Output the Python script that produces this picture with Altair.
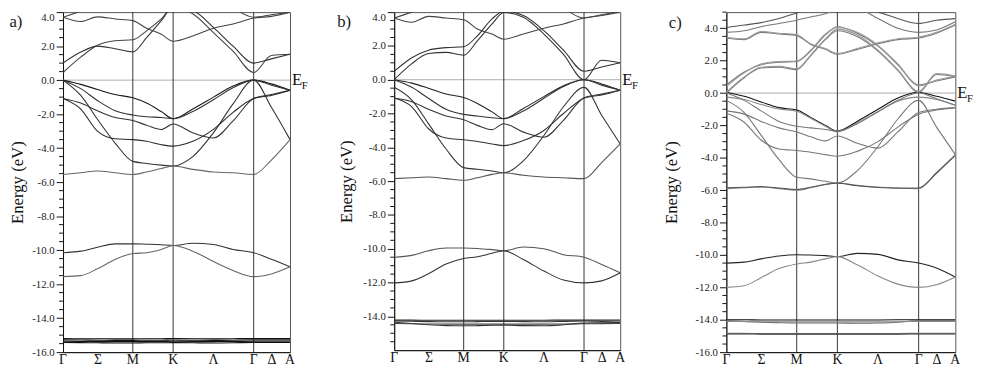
import altair as alt
import pandas as pd

# k-path positions (arbitrary distance units along Γ-M-K-Γ-A)
K_GRID = [0, 18, 35, 53, 71, 85, 100, 112, 132, 153, 173, 194, 212, 231]
SYM_POS = [0, 35.5, 71, 112, 153, 194, 212.5, 231]
SYM_LABELS = ["Γ", "Σ", "M", "K", "Λ", "Γ", "Δ", "A"]
VLINES = [71, 112, 194]
K_MAX = 231

# ---------------- panel a ----------------
A_V1 = [0.0, -0.25, -0.55, -0.85, -1.04, -1.35, -1.85, -2.27, -1.7, -1.0, -0.35, 0.0, -0.22, -0.6]
A_V2 = [0.0, -0.5, -1.2, -1.8, -2.05, -2.15, -2.2, -2.27, -1.85, -1.15, -0.45, 0.0, -0.3, -0.6]
A_V3 = [-1.08, -1.35, -1.8, -2.2, -2.37, -2.65, -2.9, -2.58, -3.1, -3.4, -2.4, -1.08, -0.85, -0.6]
A_V4 = [-1.08, -1.7, -3.0, -3.45, -3.5, -3.6, -3.8, -3.88, -3.6, -2.9, -1.9, -1.08, -0.9, -0.6]
A_V5 = [0.0, -0.9, -2.3, -3.7, -4.78, -4.9, -5.0, -5.05, -4.5, -3.1, -1.4, 0.0, -1.6, -3.5]
A_V6 = [-5.55, -5.45, -5.35, -5.45, -5.55, -5.4, -5.2, -5.05, -5.25, -5.4, -5.45, -5.55, -4.7, -3.5]
A_C1 = [0.45, 1.35, 2.05, 2.32, 2.38, 2.9, 3.6, 4.3, 3.9, 2.8, 1.7, 0.45, 1.45, 1.52]
A_C2 = [1.0, 1.65, 2.0, 1.85, 1.66, 2.5, 3.5, 4.3, 4.1, 3.1, 2.0, 1.0, 1.25, 1.52]
A_U1 = [3.7, 3.45, 3.72, 3.6, 3.5, 3.05, 2.7, 2.29, 2.6, 3.05, 3.3, 3.65, 3.75, 4.0]
A_U2 = [3.7, 4.05, 4.4, 4.6, 4.7, 4.8, 4.9, 5.0, 4.9, 4.6, 4.2, 3.7, 3.85, 4.0]
A_S1 = [-10.15, -10.06, -9.83, -9.63, -9.63, -9.65, -9.68, -9.73, -9.6, -9.67, -9.96, -10.15, -10.54, -10.98]
A_S2 = [-11.56, -11.5, -11.1, -10.55, -10.2, -10.15, -9.96, -9.73, -10.06, -10.67, -11.2, -11.56, -11.4, -10.98]
A_D1 = [-15.2, -15.21, -15.21, -15.22, -15.22, -15.21, -15.21, -15.2, -15.21, -15.22, -15.21, -15.2, -15.2, -15.2]
A_D2 = [-15.28, -15.29, -15.3, -15.31, -15.31, -15.3, -15.3, -15.29, -15.3, -15.31, -15.3, -15.28, -15.28, -15.28]
A_D3 = [-15.36, -15.37, -15.38, -15.38, -15.38, -15.37, -15.37, -15.36, -15.37, -15.38, -15.37, -15.36, -15.36, -15.36]
A_D4 = [-15.43, -15.44, -15.45, -15.46, -15.46, -15.45, -15.45, -15.44, -15.45, -15.46, -15.45, -15.43, -15.43, -15.43]
A_BANDS = [A_V1, A_V2, A_V3, A_V4, A_V5, A_V6, A_C1, A_C2, A_U1, A_U2, A_S1, A_S2, A_D1, A_D2, A_D3, A_D4]
A_SHADES = ["#1a1a1a", "#333333", "#333333", "#2a2a2a", "#333333", "#666666", "#444444", "#333333",
            "#444444", "#444444", "#333333", "#666666", "#111111", "#111111", "#111111", "#111111"]

# ---------------- panel b ----------------
B_V1 = [0.0, -0.2, -0.5, -0.85, -1.05, -1.4, -1.9, -2.3, -1.7, -1.0, -0.35, 0.0, -0.25, -0.62]
B_V2 = [0.0, -0.45, -1.1, -1.75, -2.05, -2.15, -2.25, -2.3, -1.85, -1.1, -0.4, 0.0, -0.32, -0.62]
B_V3 = [-1.08, -1.3, -1.75, -2.15, -2.37, -2.7, -2.95, -2.6, -3.1, -3.4, -2.4, -1.08, -0.9, -0.62]
B_V4 = [-1.08, -1.6, -2.9, -3.45, -3.55, -3.65, -3.8, -3.9, -3.6, -3.0, -2.0, -1.08, -0.85, -0.62]
B_V5 = [-0.45, -1.2, -2.6, -4.1, -5.2, -5.3, -5.4, -5.5, -4.8, -3.3, -1.6, -0.45, -2.1, -3.8]
B_V6 = [-5.85, -5.8, -5.75, -5.85, -5.95, -5.8, -5.6, -5.5, -5.65, -5.75, -5.8, -5.85, -4.9, -3.8]
B_C1 = [0.0, 0.95, 1.55, 1.62, 1.45, 2.3, 3.3, 3.98, 3.7, 2.7, 1.5, 0.0, 1.15, 1.0]
B_C2 = [0.5, 1.3, 1.75, 1.9, 1.95, 2.6, 3.6, 4.05, 3.8, 2.9, 1.75, 0.5, 0.75, 1.0]
B_U1 = [3.65, 3.4, 3.75, 3.65, 3.55, 3.0, 2.7, 2.4, 2.7, 3.05, 3.3, 3.65, 3.8, 4.0]
B_U2 = [3.65, 4.0, 4.3, 4.6, 4.8, 4.9, 5.0, 5.0, 5.0, 4.7, 4.2, 3.65, 3.85, 4.05]
B_S1 = [-10.5, -10.39, -10.12, -9.96, -9.96, -9.98, -10.05, -10.12, -9.9, -10.0, -10.35, -10.5, -10.93, -11.42]
B_S2 = [-12.02, -11.9, -11.48, -10.9, -10.58, -10.47, -10.27, -10.12, -10.64, -11.32, -11.85, -12.02, -11.9, -11.42]
B_D1 = [-14.22, -14.22, -14.23, -14.23, -14.23, -14.23, -14.23, -14.23, -14.23, -14.23, -14.22, -14.22, -14.22, -14.22]
B_D2 = [-14.27, -14.29, -14.31, -14.32, -14.32, -14.31, -14.3, -14.3, -14.31, -14.32, -14.3, -14.27, -14.3, -14.34]
B_D3 = [-14.35, -14.42, -14.5, -14.55, -14.56, -14.55, -14.53, -14.52, -14.55, -14.56, -14.5, -14.4, -14.38, -14.36]
B_D4 = [-14.42, -14.44, -14.45, -14.46, -14.46, -14.46, -14.46, -14.46, -14.46, -14.46, -14.45, -14.44, -14.43, -14.42]
B_BANDS = [B_V1, B_V2, B_V3, B_V4, B_V5, B_V6, B_C1, B_C2, B_U1, B_U2, B_S1, B_S2, B_D1, B_D2, B_D3, B_D4]
B_SHADES = ["#222222", "#333333", "#333333", "#333333", "#333333", "#555555", "#333333", "#333333",
            "#444444", "#444444", "#555555", "#333333", "#222222", "#333333", "#333333", "#444444"]

# ---------------- panel c ----------------
C_V1 = [0.05, -0.2, -0.55, -0.9, -1.05, -1.5, -2.0, -2.35, -1.75, -1.0, -0.3, 0.05, -0.2, -0.5]
C_V1B = [-0.25, -0.4, -0.7, -0.98, -1.12, -1.55, -2.05, -2.4, -1.85, -1.15, -0.5, -0.25, -0.4, -0.75]
C_V2 = [0.0, -0.45, -1.1, -1.75, -2.05, -2.15, -2.25, -2.35, -1.9, -1.15, -0.45, 0.0, -0.35, -0.75]
C_V3 = [-1.1, -1.3, -1.75, -2.15, -2.4, -2.7, -2.95, -2.65, -3.1, -3.4, -2.4, -1.2, -1.0, -0.9]
C_V4 = [-1.25, -1.8, -2.9, -3.45, -3.55, -3.65, -3.8, -3.9, -3.6, -3.0, -2.1, -1.3, -1.05, -0.9]
C_V5 = [-0.45, -1.2, -2.6, -4.1, -5.2, -5.3, -5.45, -5.55, -4.8, -3.3, -1.6, -0.45, -2.1, -3.8]
C_V6 = [-5.9, -5.85, -5.8, -5.9, -6.0, -5.85, -5.65, -5.55, -5.7, -5.8, -5.85, -5.9, -4.9, -3.8]
C_V6B = [-5.85, -5.82, -5.78, -5.86, -5.96, -5.82, -5.63, -5.57, -5.72, -5.83, -5.88, -5.86, -4.95, -3.85]
C_C1 = [0.0, 0.95, 1.55, 1.6, 1.45, 2.3, 3.3, 3.85, 3.5, 2.6, 1.4, 0.05, 1.15, 1.0]
C_C1B = [0.05, 1.0, 1.6, 1.65, 1.5, 2.35, 3.35, 3.95, 3.6, 2.65, 1.45, 0.1, 1.2, 1.05]
C_C2 = [0.5, 1.3, 1.75, 1.9, 1.95, 2.6, 3.6, 4.1, 3.7, 2.9, 1.75, 0.5, 0.75, 1.0]
C_C2B = [0.4, 1.25, 1.8, 1.95, 1.98, 2.65, 3.65, 4.05, 3.75, 2.95, 1.8, 0.45, 0.8, 1.05]
C_U1 = [3.4, 3.3, 3.75, 3.65, 3.55, 3.0, 2.7, 2.4, 2.7, 3.05, 3.3, 3.4, 3.7, 4.2]
C_U1B = [3.45, 3.35, 3.8, 3.7, 3.6, 3.05, 2.75, 2.45, 2.75, 3.1, 3.35, 3.45, 3.75, 4.25]
C_U2 = [3.75, 3.85, 4.1, 4.3, 4.5, 4.7, 4.9, 5.2, 5.2, 4.6, 4.0, 3.75, 3.9, 4.4]
C_U3 = [4.05, 4.2, 4.35, 4.6, 4.95, 5.2, 5.2, 5.2, 5.2, 5.0, 4.6, 4.3, 4.5, 4.6]
C_S1 = [-10.5, -10.44, -10.24, -10.06, -9.98, -10.0, -10.04, -10.1, -9.9, -9.96, -10.3, -10.5, -10.8, -11.36]
C_S2 = [-12.0, -11.9, -11.4, -10.84, -10.56, -10.44, -10.24, -10.1, -10.6, -11.3, -11.8, -12.0, -11.84, -11.36]
C_D1 = [-14.0, -14.0, -14.01, -14.01, -14.01, -14.01, -14.01, -14.01, -14.01, -14.01, -14.0, -14.0, -14.0, -14.0]
C_D2 = [-14.05, -14.1, -14.15, -14.18, -14.2, -14.2, -14.2, -14.2, -14.22, -14.2, -14.15, -14.05, -14.05, -14.05]
C_D3 = [-14.1, -14.11, -14.12, -14.13, -14.13, -14.13, -14.13, -14.13, -14.13, -14.13, -14.12, -14.1, -14.1, -14.1]
C_D4 = [-14.84, -14.84, -14.85, -14.85, -14.85, -14.85, -14.85, -14.85, -14.85, -14.85, -14.85, -14.84, -14.84, -14.84]
C_D5 = [-14.88, -14.88, -14.89, -14.89, -14.89, -14.89, -14.89, -14.89, -14.89, -14.89, -14.89, -14.88, -14.88, -14.88]
C_BANDS = [C_V1, C_V1B, C_V2, C_V3, C_V4, C_V5, C_V6, C_V6B, C_C1, C_C1B, C_C2, C_C2B,
           C_U1, C_U1B, C_U2, C_U3, C_S1, C_S2, C_D1, C_D2, C_D3, C_D4, C_D5]
C_SHADES = ["#111111", "#888888", "#777777", "#777777", "#777777", "#777777", "#888888", "#555555",
            "#777777", "#999999", "#777777", "#999999", "#777777", "#999999", "#777777", "#555555",
            "#222222", "#888888", "#111111", "#666666", "#888888", "#888888", "#333333"]

SERIF = "Liberation Serif"


def panel(bands, shades, ymin, ymax, width, height, tag, tag_x, tag_y, title_pad,
          skip_bottom_label=False, extra_right=0):
    rows = []
    for i, (vals, shade) in enumerate(zip(bands, shades)):
        for k, e in zip(K_GRID, vals):
            rows.append({"k": k, "E": e, "band": i, "shade": shade})
    df = pd.DataFrame(rows)

    halves = [ymin + 0.5 * i for i in range(int(round((ymax - ymin) / 0.5)) + 1)]
    major = [v for v in halves if v % 2 == 0]
    minor = [v for v in halves if v % 2 != 0]
    if skip_bottom_label:
        major = [v for v in major if v > ymin]

    xscale = alt.Scale(domain=[0, K_MAX], nice=False, zero=False)
    yscale = alt.Scale(domain=[ymin, ymax], nice=False, zero=False)

    xaxis = alt.Axis(values=SYM_POS, labels=False, title=None, ticks=False, grid=False,
                     domainColor="#111", tickCount=100)
    yaxis = alt.Axis(values=major, tickCount=100,
                     labelExpr="replace(format(datum.value, '.1f'), '\u2212', '-')",
                     title="Energy (eV)", tickSize=7, tickColor="#111",
                     labelFont=SERIF, labelFontSize=11, labelColor="#222",
                     labelBaseline={"condition": {"test": f"datum.value == {ymax}", "value": "top"},
                                    "value": "middle"},
                     labelPadding=2, labelOverlap=False, labelFlush=False, grid=False,
                     domainColor="#111", titleFont=SERIF, titleFontSize=17,
                     titleFontWeight="normal", titleColor="#111", titlePadding=title_pad)

    lines = alt.Chart(df).mark_line(interpolate="monotone", clip=True, strokeWidth=1.1).encode(
        x=alt.X("k:Q", scale=xscale, axis=xaxis),
        y=alt.Y("E:Q", scale=yscale, axis=yaxis),
        color=alt.Color("shade:N", scale=None),
        detail="band:N",
    )
    vrules = alt.Chart(pd.DataFrame({"k": VLINES})).mark_rule(color="#333", strokeWidth=1).encode(
        x=alt.X("k:Q", scale=xscale)
    )
    zero = alt.Chart(pd.DataFrame({"E": [0.0]})).mark_rule(color="#aaa", strokeWidth=1).encode(
        y=alt.Y("E:Q", scale=yscale)
    )
    minor_ticks = alt.Chart(pd.DataFrame({"E": minor})).mark_rule(color="#111", strokeWidth=1).encode(
        y=alt.Y("E:Q", scale=yscale), x=alt.value(-4), x2=alt.value(0)
    )
    xlabels = alt.Chart(pd.DataFrame({"k": SYM_POS, "t": SYM_LABELS})).mark_text(
        font=SERIF, fontSize=14, align="center", baseline="middle", color="#111"
    ).encode(x=alt.X("k:Q", scale=xscale), y=alt.value(height + 8), text="t:N")
    tag_txt = alt.Chart(pd.DataFrame({"t": [tag]})).mark_text(
        font=SERIF, fontSize=17, align="center", baseline="middle", color="#222"
    ).encode(x=alt.value(tag_x), y=alt.value(tag_y), text="t:N")
    e_txt = alt.Chart(pd.DataFrame({"t": ["E"], "E": [0.0]})).mark_text(
        font=SERIF, fontSize=17, align="left", baseline="middle", color="#111"
    ).encode(x=alt.value(width + 2), y=alt.Y("E:Q", scale=yscale), text="t:N")
    f_txt = alt.Chart(pd.DataFrame({"t": ["F"], "E": [0.0]})).mark_text(
        font=SERIF, fontSize=11, align="left", baseline="middle", color="#111", dy=6
    ).encode(x=alt.value(width + 12), y=alt.Y("E:Q", scale=yscale), text="t:N")

    layers = [zero, vrules, lines, minor_ticks, xlabels, e_txt, f_txt, tag_txt]
    if extra_right:
        # invisible spacer text that only widens this panel's layout bounds
        pad_txt = alt.Chart(pd.DataFrame({"t": ["F"], "E": [0.0]})).mark_text(
            font=SERIF, fontSize=11, align="left", baseline="middle", opacity=0, dy=6
        ).encode(x=alt.value(width + 12 + extra_right), y=alt.Y("E:Q", scale=yscale), text="t:N")
        layers.append(pad_txt)

    return alt.layer(*layers).properties(width=width, height=height)


pa = panel(A_BANDS, A_SHADES, -16.0, 4.0, 231, 346, "a)", -48, 10, 5, extra_right=5)
pb = panel(B_BANDS, B_SHADES, -16.0, 4.0, 230, 344, "b)", -51, 10, 8, skip_bottom_label=True)
pc = panel(C_BANDS, C_SHADES, -16.0, 5.0, 233, 346, "c)", -52, 11, 15)

chart = alt.hconcat(pa, pb, pc, spacing=23, padding={"left": 0, "top": 0, "right": 0, "bottom": 0}).configure_view(
    stroke="#555", strokeWidth=1
).configure_axis(labelOverlap=False, labelFont=SERIF, titleFont=SERIF)

chart.save("out.html", embed_options={"renderer": "svg", "actions": False})
